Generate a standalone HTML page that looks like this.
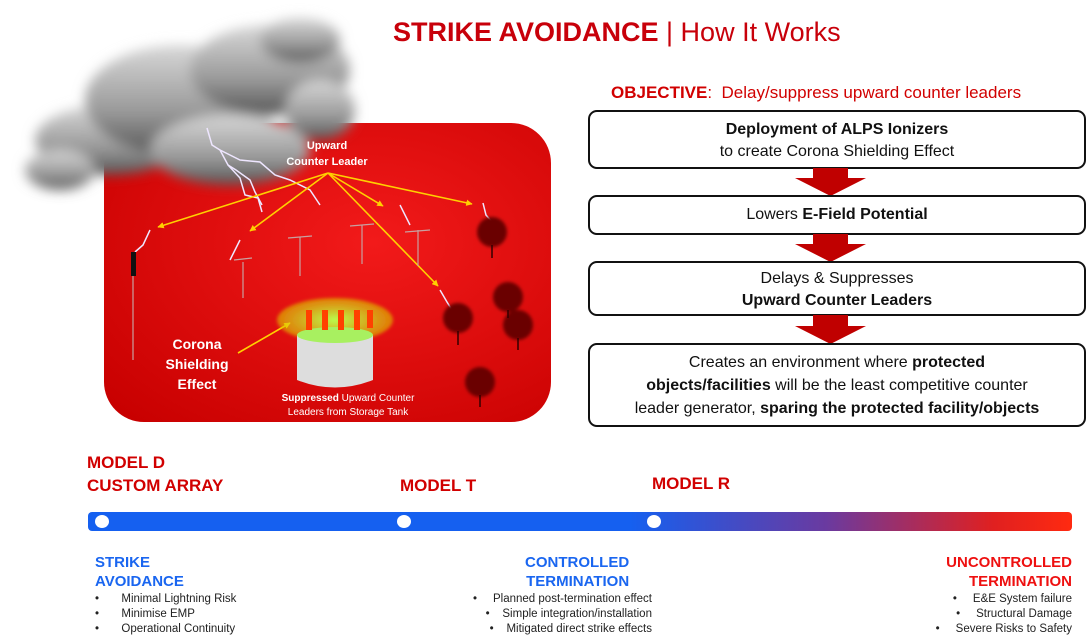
<!DOCTYPE html>
<html><head><meta charset="utf-8"><style>
body{margin:0;width:1090px;height:644px;background:#fff;position:relative;overflow:hidden;font-family:"Liberation Sans",sans-serif}
.a{position:absolute;white-space:nowrap}
.box{position:absolute;left:588px;width:498px;border:2px solid #111;border-radius:9px;box-sizing:border-box;text-align:center;font-size:16px;color:#111;line-height:22px}
.arr{position:absolute;left:795px;width:71px}
.red{color:#d10000;font-weight:bold;font-size:17px}
.blue{color:#1a66f0;font-weight:bold;font-size:15px;line-height:19px}
.ul{font-size:11.5px;color:#222;line-height:15px}
</style></head><body>
<div class="a" style="left:393px;top:17px;font-size:27px;color:#c8000a"><b>STRIKE AVOIDANCE</b> | How It Works</div>
<div class="a" style="left:611px;top:83px;font-size:17px;color:#d10000"><b>OBJECTIVE</b>:&nbsp; Delay/suppress upward counter leaders</div>

<div class="box" style="top:110px;height:59px;padding-top:7px"><b>Deployment of ALPS Ionizers</b><br>to create Corona Shielding Effect</div>
<svg class="arr" style="top:168px" height="28" viewBox="0 0 71 28"><polygon points="18,0 53,0 53,10 71,10 35.5,28 0,10 18,10" fill="#c00000"/></svg>
<div class="box" style="top:195px;height:40px;padding-top:7px">Lowers <b>E-Field Potential</b></div>
<svg class="arr" style="top:234px" height="28" viewBox="0 0 71 28"><polygon points="18,0 53,0 53,10 71,10 35.5,28 0,10 18,10" fill="#c00000"/></svg>
<div class="box" style="top:261px;height:55px;padding-top:5px">Delays &amp; Suppresses<br><b>Upward Counter Leaders</b></div>
<svg class="arr" style="top:315px" height="29" viewBox="0 0 71 29"><polygon points="18,0 53,0 53,11 71,11 35.5,29 0,11 18,11" fill="#c00000"/></svg>
<div class="box" style="top:343px;height:84px;padding-top:6px;font-size:16px;line-height:23px">Creates an environment where <b>protected</b><br><b>objects/facilities</b> will be the least competitive counter<br>leader generator, <b>sparing the protected facility/objects</b></div>

<svg class="a" style="left:0;top:0" width="580" height="440">
<defs>
<radialGradient id="rg" cx="0.6" cy="0.4" r="0.8"><stop offset="0" stop-color="#f21a1a"/><stop offset="1" stop-color="#c80000"/></radialGradient>
<linearGradient id="cl" x1="0" y1="0" x2="0" y2="1"><stop offset="0" stop-color="#d8d8d8"/><stop offset="0.6" stop-color="#9a9a9a"/><stop offset="1" stop-color="#555"/></linearGradient>
<radialGradient id="gl" cx="0.5" cy="0.5" r="0.5"><stop offset="0" stop-color="#b8ff50"/><stop offset="1" stop-color="#e0c000" stop-opacity="0.6"/></radialGradient>
<filter id="bl" x="-20%" y="-20%" width="140%" height="140%"><feGaussianBlur stdDeviation="6"/></filter>
<filter id="bl2"><feGaussianBlur stdDeviation="1.5"/></filter>
<marker id="ah" viewBox="0 0 10 10" refX="9" refY="5" markerWidth="4" markerHeight="4" orient="auto"><path d="M0,0 L10,5 L0,10 Z" fill="#ffd000"/></marker>
</defs>
<rect x="104" y="123" width="447" height="299" rx="40" fill="url(#rg)"/>
<g fill="url(#cl)" filter="url(#bl)">
<ellipse cx="110" cy="140" rx="75" ry="35"/><ellipse cx="180" cy="100" rx="95" ry="55"/><ellipse cx="270" cy="70" rx="80" ry="45"/>
<ellipse cx="60" cy="170" rx="35" ry="20"/><ellipse cx="230" cy="150" rx="80" ry="35"/><ellipse cx="320" cy="110" rx="35" ry="30"/><ellipse cx="300" cy="40" rx="40" ry="22"/>
</g>
<g stroke="#eee6ff" stroke-width="1.5" fill="none">
<polyline points="207,128 212,145 220,150 228,165 236,170 250,180 255,192 262,205"/>
<polyline points="220,150 240,160 260,162 275,175 290,180 310,190 320,205"/>
<polyline points="228,165 240,178 245,195 258,198 262,212"/>
<polyline points="400,205 405,215 410,225"/><polyline points="483,203 486,215 492,222"/>
<polyline points="440,290 447,302 452,310"/><polyline points="150,230 143,245 135,252"/><polyline points="240,240 234,252 230,260"/>
</g>
<g stroke="#ffd000" stroke-width="1.6" marker-end="url(#ah)">
<line x1="328" y1="173" x2="158" y2="227"/><line x1="328" y1="173" x2="250" y2="231"/>
<line x1="328" y1="173" x2="383" y2="206"/><line x1="328" y1="173" x2="472" y2="204"/>
<line x1="328" y1="173" x2="438" y2="286"/><line x1="238" y1="353" x2="290" y2="323"/>
</g>
<g stroke="#c8a0a0" stroke-width="1.2">
<line x1="243" y1="262" x2="243" y2="298"/><line x1="300" y1="237" x2="300" y2="276"/><line x1="362" y1="225" x2="362" y2="264"/><line x1="418" y1="230" x2="418" y2="266"/>
<line x1="234" y1="260" x2="252" y2="258"/><line x1="288" y1="238" x2="312" y2="236"/><line x1="350" y1="226" x2="374" y2="224"/><line x1="405" y1="232" x2="430" y2="230"/>
<line x1="133" y1="270" x2="133" y2="360"/>
</g>
<rect x="131" y="252" width="5" height="24" fill="#111"/>
<g fill="#6a0000" filter="url(#bl2)">
<circle cx="492" cy="232" r="15"/><circle cx="508" cy="297" r="15"/><circle cx="518" cy="325" r="15"/><circle cx="458" cy="318" r="15"/><circle cx="480" cy="382" r="15"/>
</g>
<g stroke="#300" stroke-width="1.5"><line x1="492" y1="245" x2="492" y2="258"/><line x1="508" y1="310" x2="508" y2="318"/><line x1="518" y1="338" x2="518" y2="350"/><line x1="458" y1="331" x2="458" y2="345"/><line x1="480" y1="395" x2="480" y2="407"/></g>
<ellipse cx="335" cy="320" rx="58" ry="22" fill="url(#gl)" filter="url(#bl2)"/>
<path d="M297,335 L373,335 L373,380 Q335,395 297,380 Z" fill="#ddd"/>
<ellipse cx="335" cy="335" rx="38" ry="8" fill="#a8f060"/>
<g fill="#ff4000"><rect x="306" y="310" width="6" height="20"/><rect x="322" y="310" width="6" height="20"/><rect x="338" y="310" width="6" height="20"/><rect x="354" y="310" width="6" height="20"/><rect x="367" y="310" width="6" height="18"/></g>
<g font-family="Liberation Sans" font-weight="bold" fill="#fff" text-anchor="middle">
<text x="327" y="149" font-size="11">Upward</text><text x="327" y="165" font-size="11">Counter Leader</text>
<text x="197" y="349" font-size="14">Corona</text><text x="197" y="369" font-size="14">Shielding</text><text x="197" y="389" font-size="14">Effect</text>
<text x="348" y="401" font-size="10">Suppressed<tspan font-weight="normal"> Upward Counter</tspan></text>
<text x="348" y="415" font-size="10" font-weight="normal">Leaders from Storage Tank</text>
</g>
</svg>

<div class="a red" style="left:87px;top:453px">MODEL D</div>
<div class="a red" style="left:87px;top:476px">CUSTOM ARRAY</div>
<div class="a red" style="left:400px;top:476px">MODEL T</div>
<div class="a red" style="left:652px;top:474px">MODEL R</div>

<div class="a" style="left:88px;top:512px;width:984px;height:19px;border-radius:4px;background:linear-gradient(90deg,#1560f0 0%,#1560f0 55%,#6a3aa0 75%,#e02020 92%,#ff2a10 100%)"></div>
<div class="a" style="left:95px;top:515px;width:14px;height:13px;border-radius:50%;background:#fff"></div>
<div class="a" style="left:397px;top:515px;width:14px;height:13px;border-radius:50%;background:#fff"></div>
<div class="a" style="left:647px;top:515px;width:14px;height:13px;border-radius:50%;background:#fff"></div>

<div class="a blue" style="left:95px;top:553px">STRIKE<br>AVOIDANCE</div>
<div class="a ul" style="left:95px;top:592px">•&nbsp;&nbsp;&nbsp;&nbsp;&nbsp;&nbsp;&nbsp;Minimal Lightning Risk<br>•&nbsp;&nbsp;&nbsp;&nbsp;&nbsp;&nbsp;&nbsp;Minimise EMP<br>•&nbsp;&nbsp;&nbsp;&nbsp;&nbsp;&nbsp;&nbsp;Operational Continuity</div>
<div class="a blue" style="left:525px;top:553px;text-align:right">CONTROLLED<br>TERMINATION</div>
<div class="a ul" style="left:473px;top:592px;text-align:right">•&nbsp;&nbsp;&nbsp;&nbsp;&nbsp;Planned post-termination effect<br>•&nbsp;&nbsp;&nbsp;&nbsp;Simple integration/installation<br>•&nbsp;&nbsp;&nbsp;&nbsp;Mitigated direct strike effects</div>
<div class="a blue" style="right:18px;top:553px;text-align:right;color:#ee1010">UNCONTROLLED<br>TERMINATION</div>
<div class="a ul" style="right:18px;top:592px;text-align:right">•&nbsp;&nbsp;&nbsp;&nbsp;&nbsp;E&amp;E System failure<br>•&nbsp;&nbsp;&nbsp;&nbsp;&nbsp;Structural Damage<br>•&nbsp;&nbsp;&nbsp;&nbsp;&nbsp;Severe Risks to Safety</div>
</body></html>
